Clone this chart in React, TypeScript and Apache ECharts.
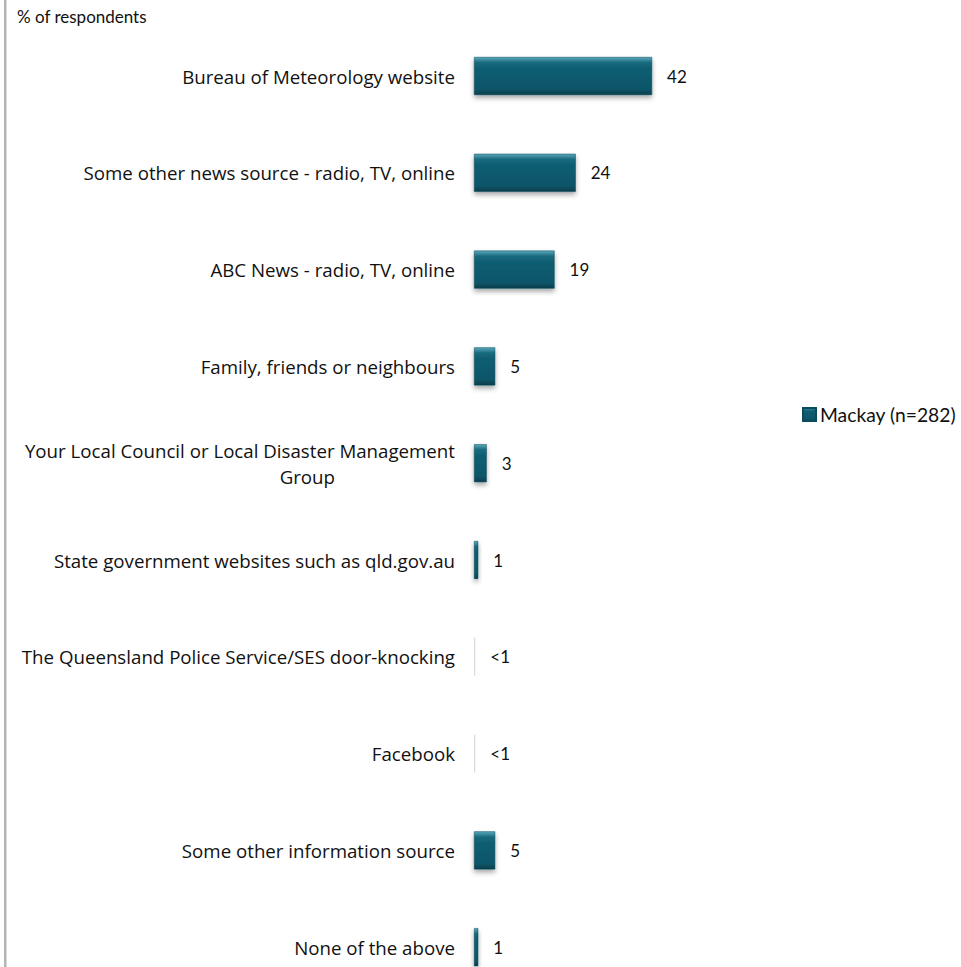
import React, { useEffect, useRef } from 'react';
import * as echarts from 'echarts';

const categories = [
  'Bureau of Meteorology website',
  'Some other news source - radio, TV, online',
  'ABC News - radio, TV, online',
  'Family, friends or neighbours',
  'Your Local Council or Local Disaster Management\nGroup',
  'State government websites such as qld.gov.au',
  'The Queensland Police Service/SES door-knocking',
  'Facebook',
  'Some other information source',
  'None of the above',
];
const values = [42, 24, 19, 5, 3, 1, 0.3, 0.3, 5, 1];
const valueLabels = ['42', '24', '19', '5', '3', '1', '<1', '<1', '5', '1'];
const seriesName = 'Mackay (n=282)';
const axisTitle = '% of respondents';

const FONT = '"Open Sans", Lato, sans-serif';
const FONT2 = 'Lato, "Open Sans", sans-serif';

export default function App() {
  const ref = useRef<HTMLDivElement>(null);
  useEffect(() => {
    if (!ref.current) return;
    const chart = echarts.init(ref.current, undefined, { renderer: 'svg' });
    const barGradient = new echarts.graphic.LinearGradient(0, 0, 0, 1, [
      { offset: 0, color: '#5aa9bb' },
      { offset: 0.14, color: '#1a6a7e' },
      { offset: 0.3, color: '#0f5d71' },
      { offset: 0.85, color: '#0d566a' },
      { offset: 1, color: '#073c4a' },
    ]);
    chart.setOption({
      animation: false,
      backgroundColor: '#ffffff',
      textStyle: { fontFamily: FONT },
      graphic: [
        {
          type: 'rect',
          left: 4,
          top: 0,
          shape: { width: 2.5, height: 1000 },
          style: { fill: '#b4b4b4' },
        },
        {
          type: 'text',
          left: 17,
          top: 8,
          style: { text: axisTitle, font: `17px ${FONT2}`, fill: '#111' },
        },
      ],
      legend: {
        left: 802,
        top: 405,
        padding: 0,
        orient: 'vertical',
        icon: 'rect',
        itemWidth: 13,
        itemHeight: 13,
        itemGap: 5,
        textStyle: { fontSize: 19.3, color: '#111', fontFamily: FONT2, padding: [0, 0, 0, -1] },
        data: [seriesName],
      },
      grid: { left: 474, top: 27.6, width: 424, height: 968, containLabel: false },
      xAxis: {
        type: 'value',
        min: 0,
        max: 100,
        show: false,
      },
      yAxis: {
        type: 'category',
        data: categories,
        inverse: true,
        axisLine: { show: false },
        axisTick: { show: false },
        splitLine: { show: false },
        axisLabel: {
          margin: 19,
          fontSize: 18.7,
          lineHeight: 26,
          color: '#111',
          fontFamily: FONT,
          formatter: (v: string) => {
            const parts = v.split('\n');
            if (parts.length > 1) return parts[0] + '\n{g|' + parts[1] + '}';
            return v;
          },
          rich: {
            g: { fontSize: 18.7, color: '#111', fontFamily: FONT, padding: [0, 120, 0, 0], lineHeight: 26 },
          },
        },
      },
      series: [
        {
          name: seriesName,
          type: 'bar',
          barWidth: 38,
          itemStyle: {
            color: barGradient,
            borderColor: '#0a4b5c',
            borderWidth: 0.5,
            shadowColor: 'rgba(0,0,0,0.35)',
            shadowBlur: 5,
            shadowOffsetY: 3,
          },
          label: {
            show: true,
            position: 'right',
            distance: 15,
            fontSize: 17,
            color: '#111',
            fontFamily: FONT2,
            formatter: (p: any) => valueLabels[p.dataIndex],
          },
          data: values.map((v) =>
            v < 1
              ? { value: v, itemStyle: { color: '#d6dcdf', borderWidth: 0, shadowBlur: 0, shadowOffsetY: 0 } }
              : v
          ),
        },
      ],
    });
    return () => chart.dispose();
  }, []);
  return (
    <div style={{ position: 'absolute', left: 0, top: 0, width: 961, height: 967, overflow: 'hidden' }}>
      <div ref={ref} style={{ width: 961, height: 1000 }} />
    </div>
  );
}
